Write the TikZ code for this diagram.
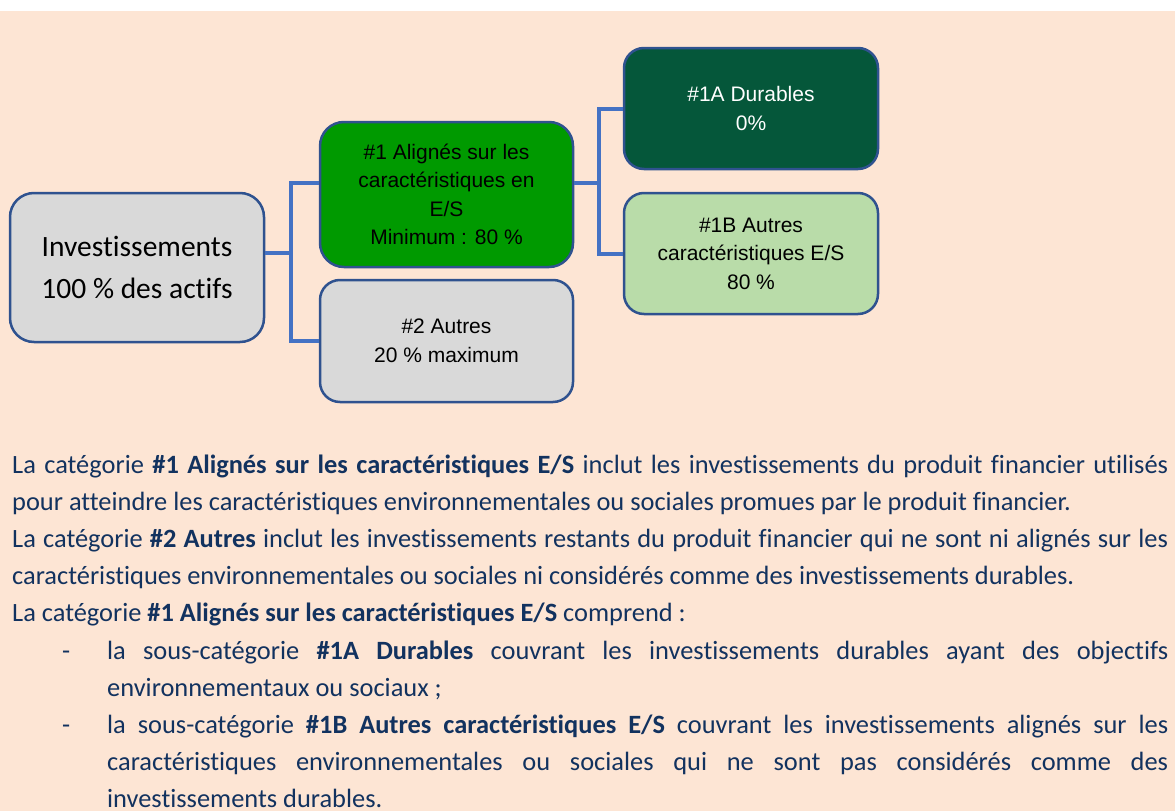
\documentclass[tikz,border=0pt]{standalone}
\usepackage{fontspec}
\setmainfont{Carlito}[Ligatures={TeX,NoCommon}]
\newfontfamily\arialfont{Liberation Sans}
\usepackage[x11names]{xcolor}
\usepackage{tikz}
\usetikzlibrary{arrows,arrows.meta}

\definecolor{peach}{HTML}{FDE5D4}
\definecolor{boxrand}{HTML}{2F528F}
\definecolor{linkblue}{HTML}{4472C4}
\definecolor{grisfond}{HTML}{D9D9D9}
\definecolor{vertvif}{HTML}{009A00}
\definecolor{vertfonce}{HTML}{05573A}
\definecolor{vertclair}{HTML}{B9DCA9}
\definecolor{textnavy}{HTML}{12325F}

\newcommand{\tiretpuce}{\makebox[0pt][r]{\makebox[45pt][l]{-}}}

\begin{document}
\begin{tikzpicture}[%
		x=1pt,y=-1pt,
		box/.style={draw=boxrand, line width=2.5pt, rounded corners=20pt,
			minimum width=254pt, inner sep=0pt, align=center,
			font=\arialfont\fontsize{21}{28.5}\selectfont},
		link/.style={draw=linkblue, line width=4pt, line join=miter},
		]

		%% Hintergrund
		\fill [white] (0,0) rectangle (1175,811);
		\fill [peach] (0,11) rectangle (1175,811);
		\useasboundingbox (0,0) rectangle (1175,811);

		%% Kaesten
		\node [box, fill=grisfond, rounded corners=24pt, minimum height=149pt,
			font=\fontsize{29.5}{42}\selectfont] (invest) at (137,267.5)
			{Investissements\\100 \% des actifs};
		\node [box, fill=vertvif, rounded corners=24pt, minimum width=253pt, minimum height=145pt] (aligne) at (446.5,194.5)
			{\#1 Alignés sur les\\caractéristiques en\\E/S\\Minimum : 80 \%};
		\node [box, fill=grisfond, minimum width=253pt, minimum height=122pt] (autres) at (446.5,341)
			{\#2 Autres\\20 \% maximum};
		\node [box, fill=vertfonce, text=white, minimum height=121pt] (durables) at (751,108.5)
			{\#1A Durables\\0\%};
		\node [box, fill=vertclair, minimum height=121pt] (autresES) at (751,253.5)
			{\#1B Autres\\caractéristiques E/S\\80 \%};

		%% Verbindungen
		\coordinate (jR) at (291,253);
		\coordinate (j1) at (291,183);
		\coordinate (j2) at (291,341);
		\coordinate (k0) at (599,183);
		\coordinate (k1) at (599,108.5);
		\coordinate (k2) at (599,253.5);
		\draw [link] (invest.east |- jR) -- (jR);
		\draw [link] (aligne.west |- j1) -- (j1) -- (j2) -- (autres.west |- j2);
		\draw [link] (aligne.east |- k0) -- (k0);
		\draw [link] (durables.west |- k1) -- (k1) -- (k2) -- (autresES.west |- k2);

		%% Erlaeuterung
		\node [anchor=base west, inner sep=0pt, text width=1156pt, text=textnavy,
			font=\fontsize{26.4}{37.2}\selectfont] (texte) at (12,473) {%
			\parindent=0pt \hyphenpenalty=10000 \exhyphenpenalty=10000 \tolerance=9999
			\leftskip=0pt \rightskip=0pt \parfillskip=0pt plus 1fil
			\spaceskip=5.97pt plus 10pt minus 2.2pt
			La catégorie \textbf{\#1 Alignés sur les caractéristiques E/S} inclut les investissements du produit financier utilisés\linebreak
			pour atteindre les caractéristiques environnementales ou sociales promues par le produit financier.\par
			La catégorie \textbf{\#2 Autres} inclut les investissements restants du produit financier qui ne sont ni alignés sur les\linebreak
			caractéristiques environnementales ou sociales ni considérés comme des investissements durables.\par
			La catégorie \textbf{\#1 Alignés sur les caractéristiques E/S} comprend~:\par
			{\leftskip=95pt
			\tiretpuce la sous-catégorie \textbf{\#1A Durables} couvrant les investissements durables ayant des objectifs\linebreak
			environnementaux ou sociaux~;\par
			\tiretpuce la sous-catégorie \textbf{\#1B Autres caractéristiques E/S} couvrant les investissements alignés sur les\linebreak
			caractéristiques environnementales ou sociales qui ne sont pas considérés comme des\linebreak
			investissements durables.\par}};

	\end{tikzpicture}
\end{document}
